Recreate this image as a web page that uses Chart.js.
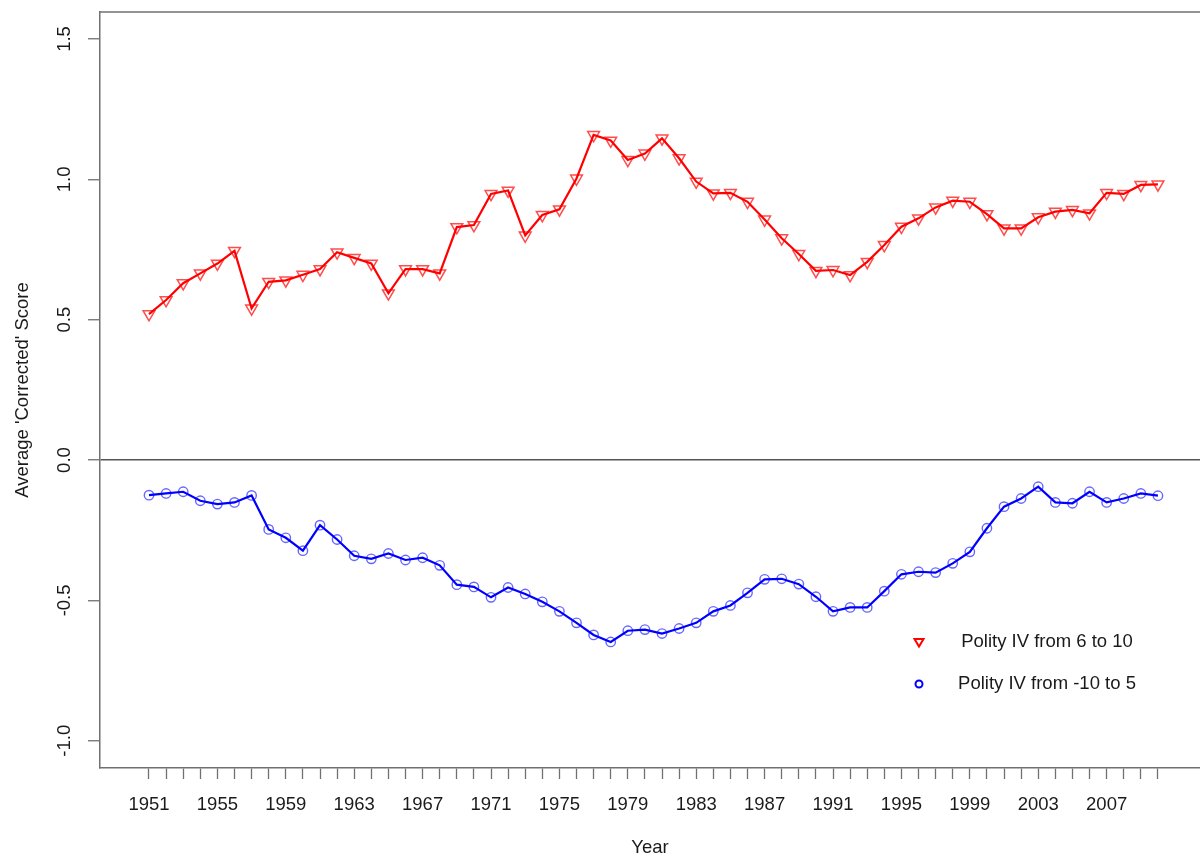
<!DOCTYPE html>
<html>
<head>
<meta charset="utf-8">
<title>Average 'Corrected' Score by Year</title>
<script src="https://cdn.jsdelivr.net/npm/chart.js@4/dist/chart.umd.min.js"></script>
<style>
    body { margin: 0; background: #fff; }
    #chart { display: block; }
</style>
</head>
<body>
<canvas id="chart" width="1200" height="857"></canvas>
<script>
"use strict";

// Years on the x axis (one tick per year, label every fourth):
var years = [1951, 1952, 1953, 1954, 1955, 1956, 1957, 1958, 1959, 1960,
    1961, 1962, 1963, 1964, 1965, 1966, 1967, 1968, 1969, 1970,
    1971, 1972, 1973, 1974, 1975, 1976, 1977, 1978, 1979, 1980,
    1981, 1982, 1983, 1984, 1985, 1986, 1987, 1988, 1989, 1990,
    1991, 1992, 1993, 1994, 1995, 1996, 1997, 1998, 1999, 2000,
    2001, 2002, 2003, 2004, 2005, 2006, 2007, 2008, 2009, 2010];
var yearLabels = [1951, 1955, 1959, 1963, 1967, 1971, 1975, 1979, 1983, 1987, 1991, 1995, 1999, 2003, 2007];

// Polity IV from 6 to 10:
var highScores = [0.520, 0.570, 0.630, 0.665, 0.700, 0.745, 0.540, 0.635, 0.640, 0.660,
    0.680, 0.740, 0.720, 0.700, 0.594, 0.680, 0.680, 0.665, 0.830, 0.837,
    0.948, 0.960, 0.800, 0.873, 0.893, 1.003, 1.158, 1.138, 1.069, 1.092,
    1.146, 1.075, 0.992, 0.950, 0.952, 0.920, 0.857, 0.790, 0.734, 0.674,
    0.677, 0.659, 0.706, 0.766, 0.831, 0.861, 0.900, 0.924, 0.920, 0.876,
    0.825, 0.825, 0.865, 0.885, 0.891, 0.879, 0.952, 0.948, 0.980, 0.982];

// Polity IV from -10 to 5:
var lowScores = [-0.125, -0.119, -0.113, -0.145, -0.157, -0.151, -0.126, -0.247, -0.277, -0.323,
    -0.232, -0.283, -0.341, -0.352, -0.333, -0.356, -0.348, -0.375, -0.444, -0.452,
    -0.489, -0.454, -0.477, -0.505, -0.539, -0.580, -0.623, -0.648, -0.608, -0.604,
    -0.618, -0.600, -0.580, -0.539, -0.518, -0.473, -0.425, -0.423, -0.442, -0.487,
    -0.539, -0.525, -0.525, -0.467, -0.407, -0.398, -0.401, -0.368, -0.327, -0.243,
    -0.166, -0.137, -0.095, -0.151, -0.154, -0.113, -0.151, -0.137, -0.119, -0.127];

var yTicks = [-1.0, -0.5, 0.0, 0.5, 1.0, 1.5];

var seriesLabels = ['Polity IV from 6 to 10', 'Polity IV from -10 to 5'];

var FONT = '"Liberation Sans", Arial, sans-serif';
var TEXT = '#1a1a1a';
var AXIS = '#707070';

var toPoints = function (values) {
    return values.map(function (v, i) {
        return { x: years[i], y: v };
    });
};

// Box top edge, rotated y tick labels and the legend:
var extras = {
    id: 'extras',
    afterDraw: function (chart) {
        var ctx = chart.ctx;
        var area = chart.chartArea;
        var yScale = chart.scales.y;

        ctx.save();
        ctx.strokeStyle = AXIS;
        ctx.lineWidth = 1.5;
        ctx.beginPath();
        ctx.moveTo(area.left, area.top);
        ctx.lineTo(area.right, area.top);
        ctx.stroke();

        ctx.fillStyle = TEXT;
        ctx.font = '18.5px ' + FONT;
        ctx.textAlign = 'center';
        ctx.textBaseline = 'middle';
        yTicks.forEach(function (t) {
            ctx.save();
            ctx.translate(area.left - 35, yScale.getPixelForValue(t));
            ctx.rotate(-Math.PI / 2);
            ctx.fillText(t.toFixed(1), 0, 0);
            ctx.restore();
        });

        // Legend (no box), markers left, labels centred:
        var mx = area.left + 819;
        var tx = area.left + 947;
        var rows = [area.top + 630, area.top + 672];

        ctx.lineWidth = 2;
        ctx.strokeStyle = chart.data.datasets[0].borderColor;
        ctx.beginPath();
        ctx.moveTo(mx - 4.5, rows[0] - 3);
        ctx.lineTo(mx + 4.5, rows[0] - 3);
        ctx.lineTo(mx, rows[0] + 4.5);
        ctx.closePath();
        ctx.stroke();

        ctx.strokeStyle = chart.data.datasets[1].borderColor;
        ctx.beginPath();
        ctx.arc(mx, rows[1], 3.5, 0, Math.PI * 2);
        ctx.stroke();

        ctx.fillStyle = TEXT;
        seriesLabels.forEach(function (label, i) {
            ctx.fillText(label, tx, rows[i]);
        });
        ctx.restore();
    }
};

var chart = new Chart(document.getElementById('chart').getContext('2d'), {
    type: 'line',
    data: {
        datasets: [{
            label: seriesLabels[0],
            data: toPoints(highScores),
            borderColor: '#ff0000',
            borderWidth: 2.2,
            tension: 0,
            pointStyle: 'triangle',
            rotation: 180,
            pointRadius: 6.8,
            pointBorderWidth: 1.5,
            pointBorderColor: 'rgba(255, 0, 0, 0.7)',
            pointBackgroundColor: 'rgba(0, 0, 0, 0)'
        }, {
            label: seriesLabels[1],
            data: toPoints(lowScores),
            borderColor: '#0000ff',
            borderWidth: 2.2,
            tension: 0,
            pointStyle: 'circle',
            pointRadius: 4.7,
            pointBorderWidth: 1.4,
            pointBorderColor: 'rgba(0, 0, 255, 0.6)',
            pointBackgroundColor: 'rgba(0, 0, 0, 0)'
        }]
    },
    options: {
        responsive: false,
        animation: false,
        devicePixelRatio: 1,
        layout: { autoPadding: false, padding: { top: 12, left: 0, right: 0, bottom: 0 } },
        plugins: {
            legend: { display: false },
            tooltip: { enabled: false }
        },
        scales: {
            x: {
                type: 'linear',
                min: 1948.135,
                max: 2012.46,
                afterBuildTicks: function (scale) {
                    scale.ticks = years.map(function (y) { return { value: y }; });
                },
                afterFit: function (scale) {
                    scale.height = 89;
                    scale.paddingLeft = 0;
                    scale.paddingRight = 0;
                },
                ticks: {
                    autoSkip: false,
                    maxRotation: 0,
                    padding: 15,
                    color: TEXT,
                    font: { family: FONT, size: 18.5 },
                    callback: function (value) {
                        return yearLabels.indexOf(value) >= 0 ? String(value) : '';
                    }
                },
                grid: {
                    drawOnChartArea: false,
                    drawTicks: true,
                    tickLength: 11,
                    tickColor: AXIS,
                    tickWidth: 1.3
                },
                border: { display: true, color: AXIS, width: 1.5 },
                title: {
                    display: true,
                    text: 'Year',
                    color: TEXT,
                    font: { family: FONT, size: 18.5, lineHeight: 1 },
                    padding: { top: 0, bottom: 0 }
                }
            },
            y: {
                type: 'linear',
                min: -1.097,
                max: 1.596,
                afterBuildTicks: function (scale) {
                    scale.ticks = yTicks.map(function (v) { return { value: v }; });
                },
                afterFit: function (scale) {
                    scale.width = 100;
                    scale.paddingTop = 0;
                    scale.paddingBottom = 0;
                },
                ticks: { display: false },
                grid: {
                    drawOnChartArea: true,
                    drawTicks: true,
                    tickLength: 12,
                    tickColor: AXIS,
                    tickWidth: 1.3,
                    lineWidth: 1.5,
                    color: function (c) {
                        return c.tick && c.tick.value === 0 ? '#555555' : 'rgba(0, 0, 0, 0)';
                    }
                },
                border: { display: true, color: AXIS, width: 1.5 },
                title: {
                    display: true,
                    text: "Average 'Corrected' Score",
                    color: TEXT,
                    font: { family: FONT, size: 18.5, lineHeight: 1 },
                    padding: { top: 14, bottom: 0 }
                }
            }
        }
    },
    plugins: [extras]
});
</script>
</body>
</html>
